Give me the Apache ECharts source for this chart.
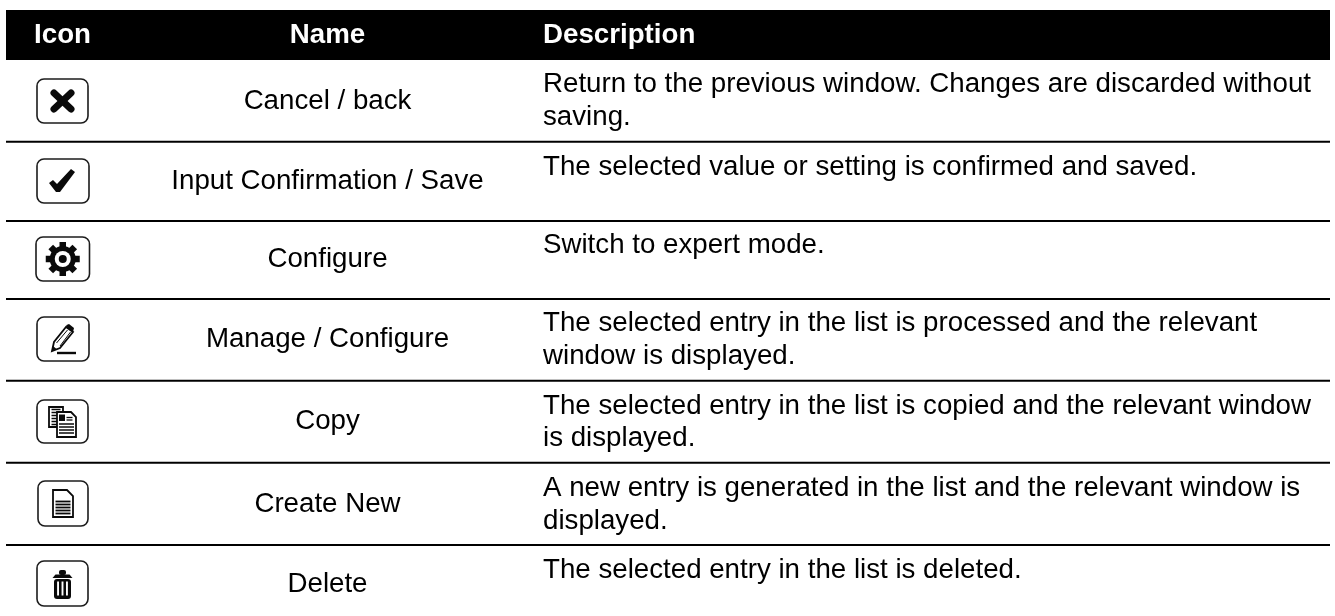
<!DOCTYPE html>
<html>
<head>
<meta charset="utf-8">
<style>html,body{margin:0;padding:0;background:#fff}#c{width:1335px;height:616px}</style>
<script src="https://cdn.jsdelivr.net/npm/echarts@6/dist/echarts.min.js"></script>
</head>
<body>
<div id="c"></div>
<script>
// ---- content ----
const headers = ['Icon', 'Name', 'Description'];
const icons = ['cancel', 'confirm', 'gear', 'pencil', 'copy', 'doc', 'trash'];
const names = ['Cancel / back', 'Input Confirmation / Save', 'Configure', 'Manage / Configure', 'Copy', 'Create New', 'Delete'];
const descriptions = [
  'Return to the previous window. Changes are discarded without\nsaving.',
  'The selected value or setting is confirmed and saved.',
  'Switch to expert mode.',
  'The selected entry in the list is processed and the relevant\nwindow is displayed.',
  'The selected entry in the list is copied and the relevant window\nis displayed.',
  'A new entry is generated in the list and the relevant window is\ndisplayed.',
  'The selected entry in the list is deleted.'
];

// ---- layout (px, separate from the content) ----
const FONT = '"Liberation Sans", Arial, sans-serif';
const FS = 27.7;
const LH = 32.4;
const MID = 8.2;  // baseline to text middle
const tableLeft = 6, tableRight = 1330, headTop = 10, headBottom = 60, headBase = 44;
const ruleY = [141.7, 221, 299, 380.8, 462.8, 545];
const nameX = 327.5, descX = 543, headX = [62.5, 327.5, 543];
const nameBase = [110, 190, 267.3, 347.3, 430, 512.3, 592.3];
const descBase = [93, 176, 253.3, 331.7, 414.3, 496.7, 578.3];
const boxes = [[37,79,88,123],[37,159,89,203],[36,237,89.5,281],[37,317,89,361],[37,400,88,443],[38,481,88,526],[37,561,88,606]];

const K = '#0a0a0a';
const line = (pts, w, c, cap) => ({type:'polyline', shape:{points:pts}, style:{stroke:c||K, lineWidth:w, fill:null, lineCap:cap||'butt', lineJoin:'miter'}});
const rect = (x,y,w,h,c,r) => ({type:'rect', shape:{x,y,width:w,height:h,r:r||0}, style:{fill:c||K}});
const circ = (r,c) => ({type:'circle', shape:{cx:0,cy:0,r}, style:{fill:c||K}});
const poly = (pts, fill, stroke, w) => ({type:'polygon', shape:{points:pts}, style:{fill:fill, stroke:stroke||null, lineWidth:w||0}});

function docShape(x,y,w,h,f){ return poly([[x,y],[x+w-f,y],[x+w,y+f],[x+w,y+h],[x,y+h]],'#fff',K,1.8); }
function hLines(x,w,ys,lw){ return ys.map(y=>line([[x,y],[x+w,y]],lw||1.4)); }

const glyphs = {
  cancel: () => [
    line([[-8.5,-8],[8.5,8]],7,K,'round'),
    line([[-8.5,8],[8.5,-8]],7,K,'round')
  ],
  confirm: () => [
    poly([[-14,2],[-10,-1],[-6,3],[8,-12],[12,-9],[-3,11],[-7,11]],K)
  ],
  gear: () => [
    line([[-17,0],[17,0]],6.5), line([[0,-17],[0,17]],6.5),
    line([[-12,-12],[12,12]],6.5), line([[-12,12],[12,-12]],6.5),
    circ(13), circ(8,'#fff'), circ(4)
  ],
  pencil: () => [
    poly([[-11,12],[-9,3],[3,-12],[10,-7],[-3,9]],'#fff',K,1.8),
    line([[-6.5,4],[4.5,-9]],1), line([[-3,7],[7.5,-7]],1),
    poly([[3.5,-14],[6,-15],[11,-11],[10,-7],[3,-12]],K),
    poly([[-11,12],[-10,7],[-6.5,10]],K),
    line([[-6,14],[13,14]],2.4)
  ],
  copy: () => [
    docShape(-13.5,-14.5,14,20,0),
    ...hLines(-11,9,[-12,-9,-6,-3,0,3],1.5),
    docShape(-5.5,-9.5,19,25,5),
    rect(-3.5,-7,6,6.5),
    ...hLines(4,6,[-4,-1.5],1.3),
    ...hLines(-3.5,15,[2.5,5.5,8.5,11.5],1.5)
  ],
  doc: () => [
    docShape(-10,-13.5,20,27,6),
    ...hLines(-7.5,15,[-2,1,4,7,10],1.8)
  ],
  trash: () => [
    rect(-3.5,-13.5,7,5,K,2),
    poly([[-10,-5.5],[-7,-9],[7,-9],[10,-5.5]],K),
    rect(-8.5,-4.5,17,20,K,3),
    rect(-5.4,-2,1.9,14,'#fff'),
    rect(-0.95,-2,1.9,14,'#fff'),
    rect(3.5,-2,1.9,14,'#fff')
  ]
};

const txt = (x,y,text,opt) => ({type:'text', x, y, style:Object.assign({text, fontFamily:FONT, fontSize:FS, fill:'#000', lineHeight:LH}, opt)});

function renderRow(params, api){
  const i = api.value(0);
  const children = [];
  const p = (x,y) => api.coord([x,y]);
  const [nx, ny] = p(nameX, nameBase[i] - MID);
  children.push(txt(nx, ny, names[i], {align:'center', verticalAlign:'middle'}));
  const [dx, dy] = p(descX, descBase[i] - MID - LH / 2);
  children.push(txt(dx, dy, descriptions[i], {align:'left', verticalAlign:'top'}));
  if (i < ruleY.length) {
    const [l, ry] = p(tableLeft, ruleY[i]);
    const [r] = p(tableRight, ruleY[i]);
    children.push({type:'line', shape:{x1:l,y1:ry,x2:r,y2:ry}, style:{stroke:'#000', lineWidth:2}});
  }
  const b = boxes[i];
  const [x1,y1] = p(b[0],b[1]);
  const [x2,y2] = p(b[2],b[3]);
  children.push({type:'rect', shape:{x:x1,y:y1,width:x2-x1,height:y2-y1,r:7}, style:{fill:'#fff', stroke:'#1c1c1c', lineWidth:1.6}});
  children.push({type:'group', x:(x1+x2)/2, y:(y1+y2)/2, children:glyphs[icons[i]]()});
  return {type:'group', children};
}

function renderHeader(params, api){
  const [l,t] = api.coord([tableLeft, headTop]);
  const [r,b] = api.coord([tableRight, headBottom]);
  const children = [{type:'rect', shape:{x:l,y:t,width:r-l,height:b-t}, style:{fill:'#000'}}];
  headers.forEach((h,i)=>{
    const [x,y] = api.coord([headX[i], headBase - MID]);
    children.push(txt(x,y,h,{fill:'#fff', fontWeight:'bold', align:i<2?'center':'left', verticalAlign:'middle'}));
  });
  return {type:'group', children};
}

const chart = echarts.init(document.getElementById('c'), null, {renderer:'canvas'});
chart.setOption({
  animation:false,
  backgroundColor:'#fff',
  grid:{left:0,right:0,top:0,bottom:0},
  xAxis:{type:'value',min:0,max:1335,show:false},
  yAxis:{type:'value',min:0,max:616,inverse:true,show:false},
  series:[
    {type:'custom',silent:true,coordinateSystem:'cartesian2d',clip:false,renderItem:renderHeader,data:[[0]],encode:{x:0}},
    {type:'custom',silent:true,coordinateSystem:'cartesian2d',clip:false,renderItem:renderRow,data:names.map((n,i)=>[i]),encode:{x:0}}
  ]
});
</script>
</body>
</html>
